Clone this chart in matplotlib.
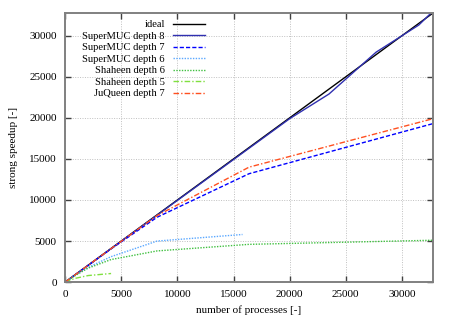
import matplotlib
matplotlib.use("Agg")
from matplotlib import pyplot as plt

# data
ideal_x = [0, 32768]
ideal_y = [0, 32768]

smuc8_x = [0, 512, 1024, 2048, 4096, 8192, 16384, 20000, 23500, 27700, 31500, 32768]
smuc8_y = [0, 510, 1020, 2040, 4080, 8150, 16300, 19900, 22900, 28000, 31300, 33000]

smuc7_x = [0, 512, 1024, 2048, 4096, 8192, 16384, 32768]
smuc7_y = [0, 510, 1020, 2030, 4050, 7900, 13200, 19300]

smuc6_x = [0, 512, 1024, 2048, 4096, 8192, 15800]
smuc6_y = [0, 480, 950, 1800, 3100, 5000, 5800]

shaheen6_x = [0, 512, 1024, 2048, 4096, 8192, 16384, 32768]
shaheen6_y = [0, 470, 900, 1700, 2750, 3800, 4600, 5100]

shaheen5_x = [0, 512, 1024, 2048, 4096]
shaheen5_y = [0, 280, 500, 800, 1050]

juqueen7_x = [0, 512, 1024, 2048, 4096, 8192, 16384, 32768]
juqueen7_y = [0, 510, 1020, 2040, 4080, 8100, 14000, 19900]


def main():
    plt.rcParams.update({
        "font.family": "Liberation Serif",
        "font.size": 8,
    })

    fig = plt.figure(figsize=(4.52, 3.17), dpi=100)
    ax = fig.add_axes([0.144, 0.110, 0.814, 0.849])

    lines = [
        (ideal_x, ideal_y, "ideal", "black", "-"),
        (smuc8_x, smuc8_y, "SuperMUC depth 8", "#3030b0", "-"),
        (smuc7_x, smuc7_y, "SuperMUC depth 7", "#0000ff", (0, (3, 1.5))),
        (smuc6_x, smuc6_y, "SuperMUC depth 6", "#5aa8ff", (0, (1, 1))),
        (shaheen6_x, shaheen6_y, "Shaheen depth 6", "#40c040", (0, (1, 1))),
        (shaheen5_x, shaheen5_y, "Shaheen depth 5", "#80e040", (0, (4, 1.5, 1, 1.5))),
        (juqueen7_x, juqueen7_y, "JuQueen depth 7", "#ff5020", (0, (4, 1.5, 1, 1.5))),
    ]
    for x, y, label, color, ls in lines:
        ax.plot(x, y, color=color, linestyle=ls, linewidth=1.0, label=label)

    ax.set_xlim(0, 32768)
    ax.set_ylim(0, 32768)
    ax.set_xticks(range(0, 30001, 5000))
    ax.set_yticks(range(0, 30001, 5000))
    ax.tick_params(direction="in", top=True, right=True, length=4, width=1,
                   color="#404040", labelsize=8, pad=6)
    ax.grid(color="#c0c0c0", linestyle=(0, (1, 1.5)), linewidth=0.7)
    for s in ax.spines.values():
        s.set_color("#808080")
        s.set_linewidth(1.4)

    ax.set_xlabel("number of processes [-]", fontsize=8)
    ax.set_ylabel("strong speedup [-]", fontsize=8, labelpad=8)

    ax.legend(loc="upper left", bbox_to_anchor=(0.035, 0.99), frameon=False,
              markerfirst=False, fontsize=7.6, handlelength=3.0, handletextpad=0.8,
              labelspacing=0.2, borderaxespad=0)

    plt.savefig("out.png", dpi=100)


if __name__ == '__main__':
    main()
